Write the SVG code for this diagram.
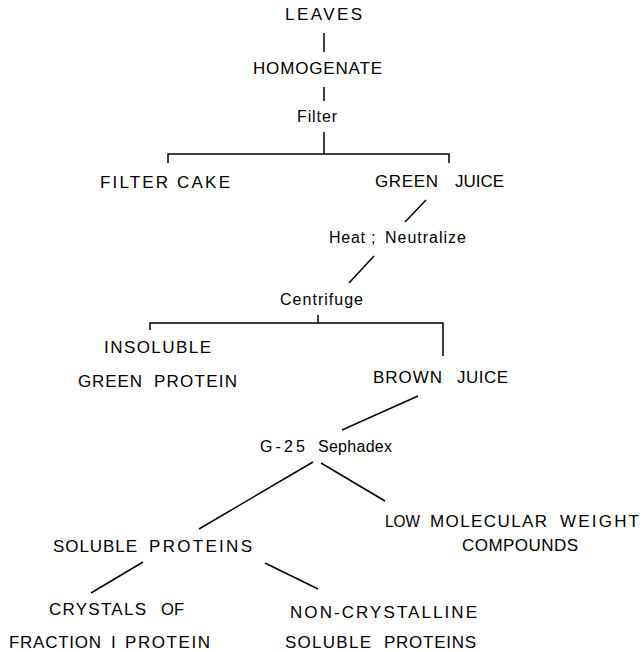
<svg xmlns="http://www.w3.org/2000/svg" width="641" height="652" viewBox="0 0 641 652">
<style>
  .bg { fill: #ffffff; }
  .up { font-family: "Liberation Sans", Arial, sans-serif; font-size: 17px; fill: #000; }
  .lo { font-family: "Liberation Sans", Arial, sans-serif; font-size: 16px; fill: #000; }
  .c { stroke: #000; stroke-width: 1.5; fill: none; stroke-linecap: butt; }
</style>
<rect class="bg" x="0" y="0" width="641" height="652"/>
<g id="connectors">
  <line class="c" x1="324" y1="33" x2="324" y2="52"/>
  <line class="c" x1="324" y1="87" x2="324" y2="101"/>
  <line class="c" x1="324" y1="132" x2="324" y2="154"/>
  <polyline class="c" points="168,163 168,154 449,154 449,163"/>
  <line class="c" x1="426" y1="200" x2="405" y2="222"/>
  <line class="c" x1="374" y1="256" x2="349" y2="283"/>
  <line class="c" x1="318" y1="315" x2="318" y2="323"/>
  <polyline class="c" points="150,330 150,323 443,323 443,356"/>
  <line class="c" x1="418" y1="396" x2="342" y2="430"/>
  <line class="c" x1="313" y1="462" x2="199" y2="529"/>
  <line class="c" x1="321" y1="463" x2="385" y2="501"/>
  <line class="c" x1="143" y1="562" x2="91" y2="593"/>
  <line class="c" x1="265" y1="563" x2="318" y2="589"/>
</g>
<g id="leaves"><text class="up" x="285" y="20" textLength="77" lengthAdjust="spacing">LEAVES</text></g>
<g id="homogenate"><text class="up" x="253" y="74" textLength="129" lengthAdjust="spacing">HOMOGENATE</text></g>
<g id="filter"><text class="lo" x="297" y="122" textLength="40" lengthAdjust="spacing">Filter</text></g>
<g id="filter-cake"><text class="up" y="188"><tspan x="100" textLength="68" lengthAdjust="spacing">FILTER</tspan> <tspan x="177" textLength="53" lengthAdjust="spacing">CAKE</tspan></text></g>
<g id="green-juice"><text class="up" y="187"><tspan x="375" textLength="63" lengthAdjust="spacing">GREEN</tspan> <tspan x="455" textLength="49" lengthAdjust="spacing">JUICE</tspan></text></g>
<g id="heat-neutralize"><text class="lo" y="243"><tspan x="329" textLength="36" lengthAdjust="spacing">Heat</tspan> <tspan x="371">;</tspan> <tspan x="385" textLength="81" lengthAdjust="spacing">Neutralize</tspan></text></g>
<g id="centrifuge"><text class="lo" x="280" y="305" textLength="83" lengthAdjust="spacing">Centrifuge</text></g>
<g id="insoluble-green-protein">
  <text class="up" x="104" y="353" textLength="107" lengthAdjust="spacing">INSOLUBLE</text>
  <text class="up" y="387"><tspan x="78" textLength="64" lengthAdjust="spacing">GREEN</tspan> <tspan x="154" textLength="83" lengthAdjust="spacing">PROTEIN</tspan></text>
</g>
<g id="brown-juice"><text class="up" y="383"><tspan x="373" textLength="69" lengthAdjust="spacing">BROWN</tspan> <tspan x="457" textLength="51" lengthAdjust="spacing">JUICE</tspan></text></g>
<g id="sephadex"><text class="lo" y="452"><tspan x="260" textLength="45" lengthAdjust="spacing">G-25</tspan> <tspan x="318" textLength="74" lengthAdjust="spacing">Sephadex</tspan></text></g>
<g id="low-mw">
  <text class="up" y="527"><tspan x="385" textLength="35" lengthAdjust="spacingAndGlyphs">LOW</tspan> <tspan x="430" textLength="117" lengthAdjust="spacing">MOLECULAR</tspan> <tspan x="560" textLength="79" lengthAdjust="spacing">WEIGHT</tspan></text>
  <text class="up" x="462" y="551" textLength="116" lengthAdjust="spacing">COMPOUNDS</text>
</g>
<g id="soluble-proteins"><text class="up" y="552"><tspan x="53" textLength="84" lengthAdjust="spacing">SOLUBLE</tspan> <tspan x="149" textLength="103" lengthAdjust="spacing">PROTEINS</tspan></text></g>
<g id="crystals">
  <text class="up" y="615"><tspan x="49" textLength="97" lengthAdjust="spacing">CRYSTALS</tspan> <tspan x="161" textLength="23" lengthAdjust="spacingAndGlyphs">OF</tspan></text>
  <text class="up" y="648"><tspan x="9" textLength="92" lengthAdjust="spacing">FRACTION</tspan> <tspan x="111">I</tspan> <tspan x="125" textLength="85" lengthAdjust="spacing">PROTEIN</tspan></text>
</g>
<g id="non-crystalline">
  <text class="up" x="290" y="618" textLength="187" lengthAdjust="spacing">NON-CRYSTALLINE</text>
  <text class="up" y="648"><tspan x="285" textLength="86" lengthAdjust="spacing">SOLUBLE</tspan> <tspan x="384" textLength="92" lengthAdjust="spacing">PROTEINS</tspan></text>
</g>
</svg>
